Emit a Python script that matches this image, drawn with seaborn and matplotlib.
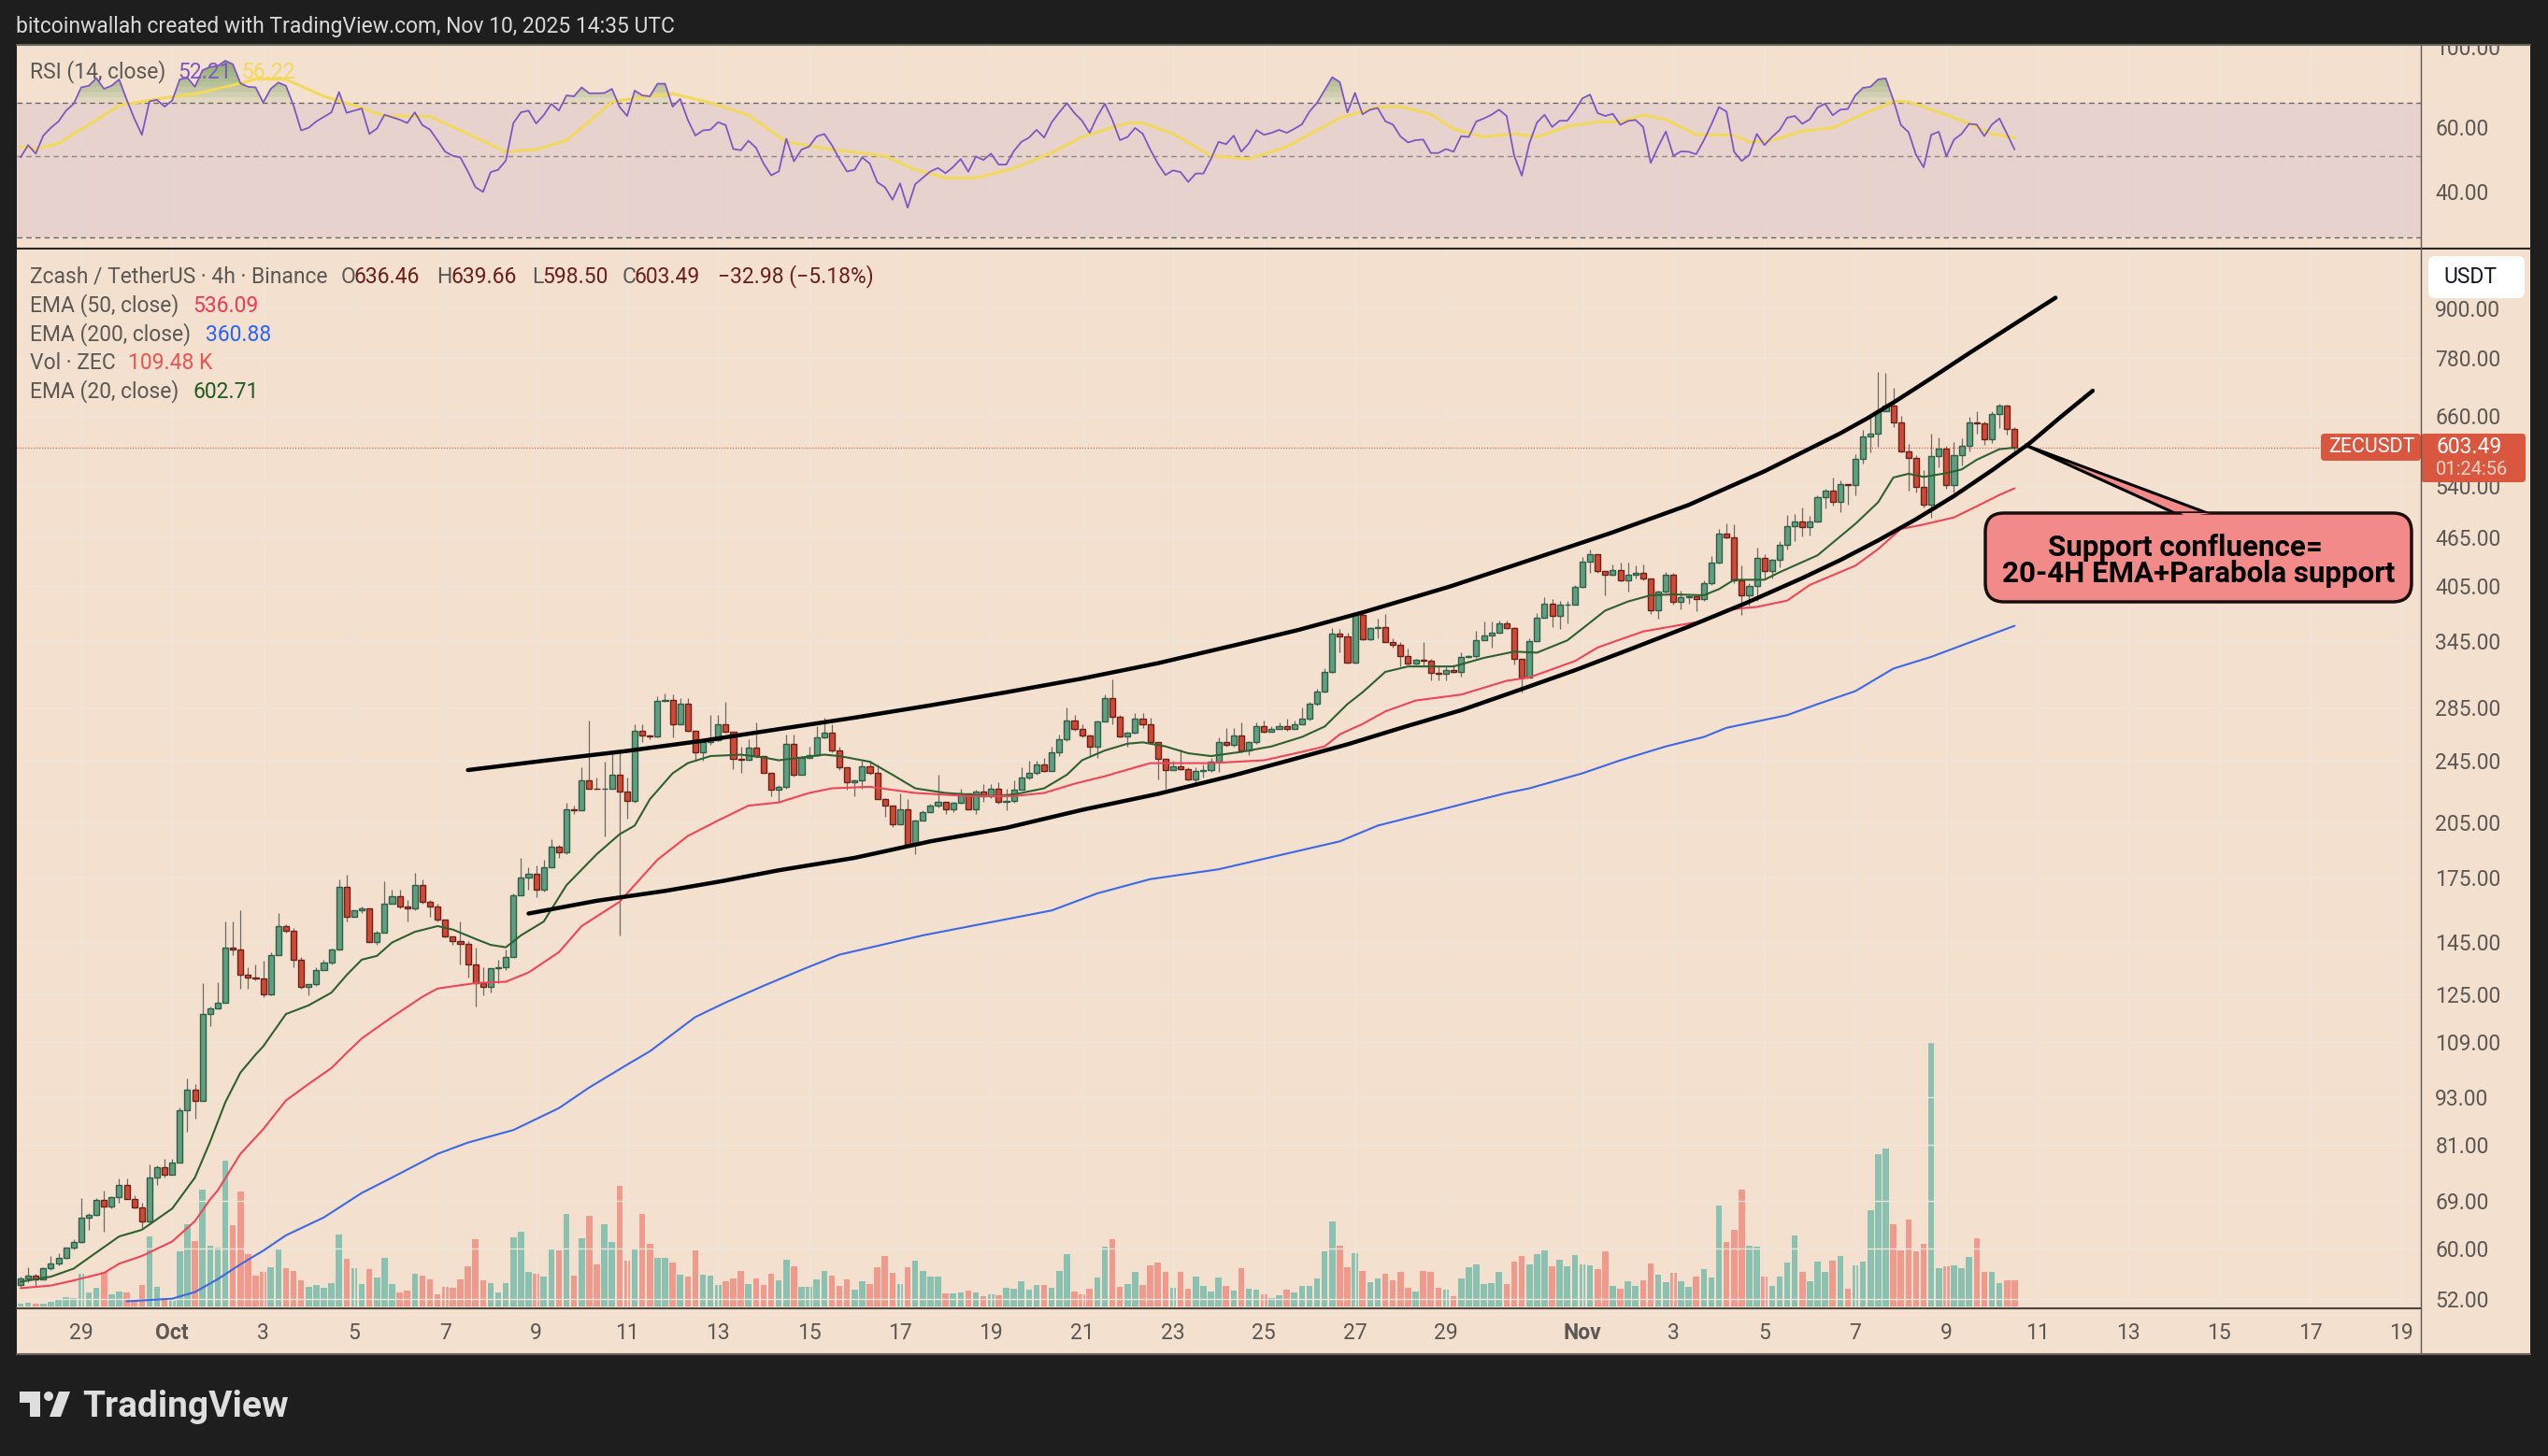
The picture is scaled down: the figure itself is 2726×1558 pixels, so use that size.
import pandas as pd
import numpy as np
import seaborn as sns
import matplotlib
matplotlib.use('Agg')
import matplotlib.pyplot as plt
import matplotlib.dates as mdates
from matplotlib.patches import FancyBboxPatch, Polygon, Circle, Rectangle
from matplotlib.ticker import FixedLocator, FixedFormatter, NullLocator

W, H = 2726, 1558
BG = '#f3e0cf'
DARK = '#1e1e1e'
GREY = '#5c5854'
TEXT_SIZE = 16.5

# 4h candles, Sep 27 16:00 to Nov 10 12:00
first_open = 54.1
closes = [
    55.1, 55.5, 54.9, 56.7, 57.6, 58.4, 60.2, 61.2, 65.6, 66.1,
    69.1, 67.8, 69.6, 72.1, 69.2, 67.6, 64.9, 73.7, 75.9, 74.3,
    77, 89.5, 95, 92, 118, 120, 122, 143, 142, 132,
    131, 130.8, 125, 140, 152, 150, 138, 127.5, 128.5, 134,
    137, 142, 170, 156, 159, 160, 145, 149, 162, 165.5,
    161, 160, 171, 163, 161, 155, 147.5, 145.5, 144.5, 136,
    129, 127.5, 134.5, 135, 139, 166, 175, 176.5, 169, 180,
    191, 188, 213, 212, 231, 226, 225.5, 226, 235, 224,
    218, 267, 263, 262.5, 291, 291.5, 272, 288, 267, 251,
    258, 259.5, 272, 266, 246, 245.5, 254, 248, 236, 225,
    227, 257, 235, 247, 249, 262, 265, 252, 240, 230,
    231, 241, 236, 219, 215, 204, 213, 192, 206, 211,
    215, 217.5, 213, 217, 223, 213, 224, 221, 226, 217.5,
    218, 225, 233, 236, 242, 237.5, 251, 260, 275, 268,
    263, 255, 274, 293, 278, 262.5, 265, 276, 272, 258,
    246, 238, 241, 239, 232, 237.5, 238.5, 244, 258, 256,
    263, 252, 258, 270, 266, 268, 270, 268, 272, 276,
    288, 299, 316, 353, 350, 325, 372, 347, 359, 359.5,
    344, 342, 331, 324, 327, 326.5, 315, 314.5, 318, 316,
    330, 331, 346, 351, 354, 363, 359, 328, 311, 345,
    369, 385, 371, 383, 384, 404, 434, 444, 422, 418,
    424, 411, 418, 420, 413, 377, 398, 418, 387, 392,
    392.5, 390, 408, 433, 471, 466, 411, 394, 405, 439,
    423, 436, 455, 481, 487, 479, 487, 522, 533, 515,
    542, 541.5, 583, 622, 628, 669, 680, 648, 596, 585,
    539, 511, 588, 601, 541, 590, 606, 647.5, 647, 617,
    664, 681, 636.46, 603.49,
]
highs = [
    55.4, 57, 55.8, 56.9, 58.8, 59.3, 60.3, 61.7, 69.4, 66.5,
    69.4, 71, 69.8, 73.5, 73.5, 70, 68.6, 76.5, 76.3, 77.8,
    77.8, 90.3, 98, 96.5, 129, 120.5, 129.5, 154, 154, 159,
    135, 136, 137.5, 141, 158, 153, 151, 139, 128.5, 135,
    138, 142.5, 174, 176, 159, 161, 160, 150, 173, 169,
    169, 164, 177, 174, 164, 162, 155, 147.5, 154, 145.5,
    143, 135, 134.5, 138, 142, 167, 185, 180, 181, 184,
    195, 192, 217, 215, 240, 275, 233, 244, 251, 251,
    233, 272, 272, 264, 295, 297, 296, 293, 293, 267,
    260, 279, 279, 290, 266, 255, 260, 273, 248, 236,
    228, 264, 264, 248, 255, 270, 277, 272, 255, 240,
    232, 245, 245, 242, 220, 215, 223, 219, 206.5, 212,
    216, 235, 217, 217.5, 226, 223, 225, 229, 229, 230,
    226, 231, 240, 245, 245, 247, 255, 264, 285, 279,
    272, 264, 274.5, 296, 309, 279, 266, 281, 281, 277,
    258, 246, 245, 253, 240, 240, 242, 247, 262, 269,
    269, 273, 259, 273, 275, 270, 273, 276, 275, 285,
    290, 301, 319, 359, 358, 354, 375, 375, 360, 368,
    373, 348, 344, 338, 328, 344, 328, 321, 321, 323,
    334, 332, 356, 365, 365, 366, 366, 360, 328, 348,
    374, 392, 390, 388, 388, 406, 440, 450, 444, 423,
    431, 433, 433, 429, 430, 413, 399, 421, 420, 399,
    394, 393, 411, 441, 477, 485, 483, 429, 408, 452,
    444, 438, 461, 497, 498, 508, 495, 525, 536, 553,
    548, 542, 592, 635, 663, 750, 747, 716, 661, 609,
    590, 565, 627, 621, 606, 612, 619, 659, 669, 649,
    670, 684, 682, 639.66,
]
lows = [
    53.8, 54.5, 54, 55.1, 56.4, 57.2, 58.3, 59.9, 61, 63.4,
    66, 63, 67.4, 68.6, 69.2, 67.4, 63.7, 64.7, 72.1, 73.7,
    74.3, 77, 84, 87.3, 92, 114, 120, 122, 140, 127,
    127, 130, 124, 124.5, 140, 149, 135, 127, 124.5, 128,
    134, 136, 142, 154, 156, 158, 145, 144, 149, 162,
    160, 154, 159, 162, 156, 154, 147, 144, 136, 131,
    120.5, 124.5, 125.5, 129, 134, 139, 166, 169, 165, 168,
    180, 185, 187, 210, 212, 226, 225, 197, 228, 148,
    207, 217, 258, 260, 262, 290, 262, 272, 266, 245,
    245, 256, 259, 265, 239, 236, 245, 247, 236, 221,
    217, 226, 234, 235, 247, 248, 261, 251, 238, 225,
    221, 226, 235, 219, 208, 202, 204, 191, 187, 206,
    211, 214, 210, 211, 216.5, 213, 210, 217.5, 220, 216,
    212, 217, 225, 232, 235, 237, 238, 248, 259, 267,
    262, 248, 247, 274, 272, 262, 255, 264.5, 269, 258,
    232, 226, 238, 238, 231, 229, 233, 237, 237, 255,
    255, 251, 249, 257, 265, 266, 268, 267, 268, 272,
    275, 287, 298, 315, 334, 324, 324, 346, 346, 348,
    344, 339, 321, 323, 323, 321, 308, 308, 308, 315,
    312, 329, 329, 346, 339, 353, 358, 323, 298, 311,
    345, 369, 360, 358, 363, 383, 403, 420, 420, 394,
    417, 410, 398, 414, 411, 373, 368, 397, 383, 378,
    385, 376, 388, 406, 432, 464, 408, 372, 382, 388,
    412, 414, 427, 450, 461, 467, 468, 486, 506, 510,
    500, 511, 525, 575, 595, 604, 671, 640, 595, 532,
    530, 507, 492, 569, 535, 530, 572, 596, 627, 607,
    611, 638, 625, 598.5,
]
# volume in thousands of ZEC
volumes = [
    10, 17, 13, 13, 21, 27, 40, 36, 138, 60,
    79, 146, 52, 64, 60, 29, 91, 294, 83, 36,
    23, 232, 345, 275, 490, 255, 248, 610, 341, 482,
    220, 130, 146, 165, 244, 162, 150, 111, 83, 91,
    79, 99, 302, 201, 162, 95, 158, 122, 205, 95,
    60, 68, 138, 130, 115, 52, 83, 79, 115, 169,
    282, 108, 97, 59, 97, 290, 311, 144, 138, 123,
    243, 233, 385, 127, 286, 381, 176, 343, 271, 506,
    191, 241, 385, 263, 205, 205, 182, 133, 123, 233,
    133, 129, 91, 104, 119, 150, 95, 119, 91, 138,
    110, 195, 169, 83, 83, 115, 150, 128, 87, 115,
    72, 107, 95, 165, 212, 142, 95, 165, 193, 150,
    126, 126, 56, 56, 60, 68, 60, 44, 52, 48,
    79, 76, 107, 72, 91, 91, 79, 150, 220, 64,
    52, 76, 122, 251, 283, 83, 95, 146, 91, 173,
    185, 146, 78, 145, 74, 126, 87, 61, 122, 87,
    68, 162, 74, 70, 51, 35, 47, 70, 59, 86,
    86, 117, 231, 356, 254, 165, 223, 149, 103, 117,
    137, 109, 145, 78, 63, 149, 145, 78, 70, 43,
    117, 164, 176, 94, 98, 145, 94, 188, 211, 176,
    219, 235, 168, 195, 168, 215, 176, 172, 156, 231,
    86, 74, 106, 86, 109, 180, 133, 102, 141, 106,
    82, 125, 156, 121, 422, 270, 321, 489, 254, 250,
    125, 86, 125, 184, 297, 145, 106, 188, 145, 192,
    211, 74, 172, 188, 403, 637, 661, 344, 235, 364,
    231, 262, 1103, 160, 168, 172, 160, 207, 285, 145,
    145, 98, 109, 109.48,
]
rsi_values = [
    49.7, 53.7, 50.9, 57, 59.9, 62.3, 66.7, 69.6, 77.2, 78,
    81.8, 76.5, 78, 81.2, 71.4, 63.5, 57.3, 70.7, 71.4, 68.4,
    71.1, 81.2, 82, 77.5, 86, 87.8, 88.3, 91.3, 89.3, 79.2,
    77.5, 77.2, 70.2, 76.5, 79.6, 78, 68.9, 58.9, 59.9, 62.3,
    64.1, 66, 75, 65.8, 66.7, 67.6, 57.6, 59.6, 65, 64,
    63, 61.7, 66, 60.9, 59.2, 55.3, 51.5, 50.2, 49.7, 45.5,
    41.2, 40, 45.3, 46, 48.7, 61.7, 66, 66.7, 61.5, 64.8,
    69.6, 66.7, 73.4, 73, 77.2, 74.4, 74.4, 74.5, 76.5, 68.3,
    64.5, 75.7, 73.4, 73, 79, 79, 68.4, 71.8, 63, 57,
    58.9, 59.2, 62, 60.9, 52.4, 52, 55.2, 52.8, 47.8, 44.4,
    45.5, 55.9, 48.5, 52.2, 53.2, 56.7, 57.6, 53.7, 49.2, 45.5,
    46, 49.7, 47.8, 42.5, 41.2, 38.1, 42.2, 36.2, 42, 43.7,
    45.5, 46.5, 45, 46.8, 49.2, 45.4, 50, 48.9, 50.9, 47.5,
    47.5, 51.7, 54.8, 56.3, 59.1, 56.3, 62, 66, 69.9, 65.7,
    62.6, 58, 64.2, 69.7, 62.9, 55.4, 56.5, 59.8, 57.7, 52.2,
    47.8, 44.5, 45.8, 45.3, 42.6, 44.9, 44.9, 49.2, 54.8, 54,
    57, 51.5, 54.3, 59, 57.3, 58, 59.1, 58, 59.5, 61.2,
    66.3, 70.1, 75.9, 82.3, 79.8, 66, 74.6, 65.2, 67.1, 67.8,
    62.4, 61.1, 56.7, 54.6, 55.4, 55.6, 51.1, 51.1, 52.4, 51.5,
    56.8, 56.5, 62.3, 63.5, 65, 67.1, 64.5, 50.2, 44.3, 54.3,
    61.9, 65, 60.2, 62.6, 62.6, 66.7, 72.1, 73.8, 65.7, 64.5,
    65.4, 61, 62.5, 62.9, 60.2, 48, 53.2, 58.5, 50.2, 51.6,
    51.5, 50.7, 55.3, 61.1, 68.2, 66.3, 51.5, 48.6, 50.5, 57.6,
    53.7, 56.5, 59, 63.8, 64.5, 61.4, 63.2, 68, 69.7, 64.8,
    67.1, 67.4, 73.5, 77, 77.5, 81.2, 81.7, 71.4, 60.9, 58.3,
    50.5, 46.7, 57.3, 58.4, 50, 55.6, 57.6, 61.4, 61.1, 56.8,
    61.1, 63.5, 57.6, 52.21,
]
rsi_ma_bars = [0, 2, 5, 9, 13, 18, 23, 29, 31, 35, 40, 44, 48, 54, 59, 64, 68, 72, 76, 78,
               82, 86, 91, 96, 101, 107, 114, 118, 122, 126, 131, 136, 140, 143, 146, 148,
               152, 157, 162, 167, 174, 179, 182, 186, 189, 193, 197, 200, 204, 208, 211,
               214, 217, 221, 226, 228, 231, 235, 239, 243, 247, 249, 252, 257, 260, 263]
rsi_ma_values = [53.2, 52.4, 54.3, 61.1, 68.9, 71.8, 74.1, 79.2, 81.4, 81.2, 73, 68.9, 64.5, 64.3,
                 57.6, 51.5, 52.2, 55.3, 64.8, 70.5, 72.6, 74.2, 70.1, 64.8, 54.8, 52.2, 50.2,
                 46, 43.6, 43.7, 46.4, 51.2, 56.5, 59.1, 61.7, 61.7, 57.7, 50.2, 49.2, 53.2,
                 63.7, 68.2, 68.4, 65.2, 59.4, 56.5, 57.7, 56.5, 60.4, 62.2, 62.2, 64.9, 63,
                 57.4, 57.1, 54.8, 55.3, 58.7, 59.9, 65.2, 70.7, 70.5, 67.1, 61.6, 57.6, 56.22]

ema20_bars = [0, 4, 7, 10, 13, 16, 20, 23, 25, 27, 29, 31, 32, 35, 38, 41, 43, 45, 47, 49, 52, 55,
              57, 60, 62, 64, 66, 69, 72, 76, 79, 81, 83, 86, 88, 91, 95, 98, 100, 103, 106, 108,
              112, 115, 118, 122, 125, 128, 131, 135, 138, 140, 143, 146, 148, 151, 154, 157, 161,
              165, 169, 172, 175, 177, 180, 183, 189, 193, 197, 200, 204, 206, 209, 212, 215, 218,
              222, 224, 226, 230, 232, 237, 242, 245, 247, 249, 251, 254, 256, 258, 261, 263]
ema20_values = [54.6, 55.4, 56.7, 59.4, 62.2, 63.4, 67.4, 73.7, 81.7, 91.5, 99.7, 105, 107.5, 118,
                121, 125.5, 132, 138, 139.5, 145, 149.5, 152, 150.5, 146.5, 144, 143, 148, 154,
                171, 187, 198, 203, 219, 236, 243, 248, 249, 247, 245, 247, 249, 248, 244, 235,
                226, 223, 222, 221, 222, 226, 235, 245, 252, 257, 258, 255, 250, 248, 251, 255,
                262, 270, 288, 298, 316, 321, 321, 329, 335, 334, 346, 358, 377, 387, 394, 395,
                394, 401, 412, 412, 421, 442, 484, 515, 553, 559, 554, 560, 566, 582, 600, 602.71]
ema50_bars = [0, 4, 7, 11, 13, 16, 20, 23, 25, 26, 29, 32, 35, 38, 41, 43, 45, 49, 53, 55, 60, 64,
              67, 71, 74, 79, 84, 88, 92, 96, 100, 104, 107, 112, 115, 118, 125, 131, 135, 139, 143,
              147, 149, 153, 157, 164, 169, 172, 174, 177, 180, 184, 190, 196, 199, 205, 208, 214,
              222, 225, 229, 233, 236, 242, 245, 248, 251, 255, 258, 261, 263]
ema50_values = [53.6, 54, 54.8, 56, 57.5, 58.8, 61.3, 65, 69.2, 71, 78.9, 84.7, 92, 96.5, 101, 105.5,
                110, 117, 124, 127, 129, 129.5, 133, 141, 152, 163, 184, 197, 206, 215, 217, 223,
                226, 227, 225, 223, 221, 221, 223, 229, 234, 240, 243, 243, 243, 245, 251, 255, 264,
                272, 282, 291, 296, 308, 311, 326, 339, 355, 366, 378, 381, 388, 406, 429, 450, 477,
                483, 493, 509, 526, 536.09]
ema200_bars = [14, 20, 23, 26, 29, 32, 35, 40, 45, 49, 55, 59, 65, 71, 75, 80, 83, 89, 93, 98, 103,
               108, 119, 136, 142, 149, 158, 174, 179, 186, 191, 196, 199, 206, 211, 217, 222, 225,
               233, 237, 242, 247, 252, 256, 263]
ema200_values = [51.6, 52, 53, 55, 57.4, 59.7, 62.4, 65.7, 70.5, 73.7, 78.9, 81.5, 84.5, 90, 95.5,
                 102, 106, 117, 122, 128, 134, 140, 148, 159, 167, 174, 179, 194, 203, 211, 217,
                 223, 226, 236, 245, 255, 262, 269, 279, 288, 299, 319, 330, 341, 360.88]

# hand drawn parabola channel
upper_bars = [59, 69.5, 80, 90, 100, 110, 120, 130, 140, 150, 160, 168.5, 177, 188.5, 200, 210, 220,
              230, 240, 243.6, 247.3, 252, 257, 262.7, 268.4]
upper_prices = [238.2, 245, 251.7, 259.2, 268, 277, 287, 298, 310, 324, 341, 356.5, 375, 404, 439,
                472.3, 511, 563, 628, 656, 689, 736, 791, 857, 928]
lower_bars = [67, 76, 85, 92.5, 100, 110, 120, 130, 140, 150, 160, 167.5, 175, 182.5, 190, 197.5, 205,
              212.5, 220, 227.5, 235, 240, 245, 250, 255, 260, 265, 269, 273.3]
lower_prices = [157.6, 163.5, 168.2, 173, 178.5, 185, 194, 201.7, 212.4, 222.4, 234.6, 245.2, 256.5,
                269.7, 283, 299.6, 317.5, 337.9, 360, 385, 414, 436, 461.4, 490.5, 524.3, 564.5,
                610.6, 657.4, 710]

price_ticks = [900, 780, 660, 540, 465, 405, 345, 285, 245, 205, 175, 145, 125, 109, 93, 81, 69, 60, 52]
rsi_ticks = [100, 60, 40]
tick_dates = ['2025-09-29'] + [f'2025-10-{d:02d}' for d in range(1, 30, 2)] + \
             ['2025-11-01'] + [f'2025-11-{d:02d}' for d in range(3, 20, 2)]
tick_labels = ['29', 'Oct'] + [str(d) for d in range(3, 30, 2)] + ['Nov'] + [str(d) for d in range(3, 20, 2)]

sns.set_theme(style='white')
plt.rcParams['font.family'] = ['Roboto', 'DejaVu Sans']

dates = pd.date_range('2025-09-27 16:00', periods=len(closes), freq='4h')
df = pd.DataFrame({'date': dates, 'close': closes, 'high': highs, 'low': lows,
                   'volume': volumes, 'rsi': rsi_values})
df['open'] = [first_open] + closes[:-1]  # each 4h bar opens on the previous close
df['x'] = mdates.date2num(df['date'])
up = df['close'] >= df['open']
bar_days = 4 / 24
x_at = lambda bars: df['x'].iloc[0] + np.asarray(bars) * bar_days
xlim = (df['x'].iloc[0] - 4 / 48.67, df['x'].iloc[0] + 2568 / 48.67)
tick_x = mdates.date2num(pd.to_datetime(tick_dates))


def pane(x0, y0, x1, y1, zorder):
    ax = fig.add_axes([x0 / W, 1 - y1 / H, (x1 - x0) / W, (y1 - y0) / H], zorder=zorder)
    ax.patch.set_alpha(0)
    for s in ax.spines.values():
        s.set_visible(False)
    return ax


def draw_line(ax, x, y, color, lw, z=4):
    sns.lineplot(x=x, y=y, ax=ax, color=color, linewidth=lw, legend=False, errorbar=None,
                 estimator=None, sort=False, zorder=z)


fig = plt.figure(figsize=(W / 100, H / 100), dpi=100, facecolor=DARK)
bg = pane(18, 48, 2707, 1449, 0)
bg.patch.set_alpha(1)
bg.set_facecolor(BG)
bg.set_xticks([])
bg.set_yticks([])

# volume sits behind the candles
ax_vol = pane(18, 266, 2590, 1400, 1)
vol_colors = np.where(up, '#8bc1b0', '#ef9a8c')
ax_vol.bar(df['x'], df['volume'], width=0.135, color=vol_colors, linewidth=0)
ax_vol.set_xlim(xlim)
ax_vol.set_ylim(-8, 4426)
ax_vol.set_xticks([])
ax_vol.set_yticks([])

ax = pane(18, 266, 2590, 1400, 2)
ax.set_yscale('log')
ax.grid(True, color='#f0e5da', linewidth=1)
ax.set_axisbelow(True)
ax.vlines(df['x'], df['low'], df['high'], color='#6e6a63', linewidth=0.9, zorder=2)
ax.bar(df['x'], (df['close'] - df['open']).abs(), bottom=df[['open', 'close']].min(axis=1),
       width=0.125, color=np.where(up, '#5f9e7e', '#cf4a36'),
       edgecolor=np.where(up, '#2f5f48', '#6b2018'), linewidth=1, zorder=3)
draw_line(ax, x_at(ema20_bars), ema20_values, '#2f6130', 1.5)
draw_line(ax, x_at(ema50_bars), ema50_values, '#ee4658', 1.5)
draw_line(ax, x_at(ema200_bars), ema200_values, '#3d68e6', 1.5)
draw_line(ax, x_at(upper_bars), upper_prices, '#000000', 3.2, 6)
draw_line(ax, x_at(lower_bars), lower_prices, '#000000', 3.2, 6)
ax.axhline(closes[-1], color='#d0503c', linewidth=0.8, linestyle=':', zorder=3)
ax.set_xlim(xlim)
ax.set_ylim(50.57, 1069)
ax.set_xlabel('')
ax.set_ylabel('')
ax.yaxis.set_major_locator(FixedLocator(price_ticks))
ax.yaxis.set_major_formatter(FixedFormatter([f'{v:.2f}' for v in price_ticks]))
ax.yaxis.set_minor_locator(NullLocator())
ax.yaxis.tick_right()
ax.tick_params(axis='y', length=0, pad=11, labelsize=TEXT_SIZE, labelcolor=GREY)
ax.set_xticks(tick_x)
ax.set_xticklabels(tick_labels)
ax.tick_params(axis='x', length=0, pad=11, labelsize=TEXT_SIZE, labelcolor=GREY)
for lab in ax.get_xticklabels():
    if lab.get_text() in ('Oct', 'Nov'):
        lab.set_fontweight('bold')

ax_rsi = pane(18, 48, 2590, 266, 2)
ax_rsi.set_yscale('log')
ax_rsi.grid(True, axis='x', color='#f0e5da', linewidth=1)
ax_rsi.set_axisbelow(True)
ax_rsi.axhspan(30, 70, color='#7e57c2', alpha=0.1, linewidth=0)
rsi = df['rsi'].to_numpy()
for level in np.arange(70, 92, 2.5):
    ax_rsi.fill_between(df['x'], level, rsi, where=rsi > level, interpolate=True,
                        color='#6d9e55', alpha=0.13, linewidth=0)
for level, col in ((70, '#6b6764'), (50, '#8d8682'), (30, '#6b6764')):
    ax_rsi.axhline(level, color=col, linewidth=1, dashes=(4, 3))
draw_line(ax_rsi, x_at(rsi_ma_bars), rsi_ma_values, '#f2d95c', 2.2, 3)
draw_line(ax_rsi, df['x'].to_numpy(), rsi_values, '#7e57c2', 1.3, 4)
ax_rsi.set_xlim(xlim)
ax_rsi.set_ylim(28, 100.9)
ax_rsi.set_xticks(tick_x)
ax_rsi.set_xticklabels([])
ax_rsi.set_xlabel('')
ax_rsi.set_ylabel('')
ax_rsi.yaxis.set_major_locator(FixedLocator(rsi_ticks))
ax_rsi.yaxis.set_major_formatter(FixedFormatter([f'{v:.2f}' for v in rsi_ticks]))
ax_rsi.yaxis.set_minor_locator(NullLocator())
ax_rsi.yaxis.tick_right()
ax_rsi.tick_params(axis='y', length=0, pad=11, labelsize=TEXT_SIZE, labelcolor=GREY)
ax_rsi.tick_params(axis='x', length=0)

# screenshot chrome and labels, in pixel coordinates
ov = fig.add_axes([0, 0, 1, 1], zorder=5)
ov.set_xlim(0, W)
ov.set_ylim(H, 0)
ov.axis('off')
ov.add_patch(Rectangle((0, 0), W, 47, color=DARK, linewidth=0))
ov.plot([18, 2707], [47.5, 47.5], color='#6b645c', linewidth=1.5)
ov.plot([18, 2707], [266, 266], color='#2a2623', linewidth=1.5)
ov.plot([18, 2590], [1400, 1400], color='#4a4540', linewidth=1.5)
ov.plot([2590, 2590], [48, 1449], color='#5d5853', linewidth=1)
ov.plot([18, 2707], [1449, 1449], color='#6b645c', linewidth=1.5)


def label(x, y, s, color=GREY, size=TEXT_SIZE, **kw):
    ov.text(x, y, s, color=color, fontsize=size, va='center', **kw)


label(17, 28, 'bitcoinwallah created with TradingView.com, Nov 10, 2025 14:35 UTC', '#d9d9d9')
label(32, 77, 'RSI (14, close)')
label(190, 77, '52.21', '#7e57c2')
label(258, 77, '56.22', '#f2d95c')
label(32, 296, 'Zcash / TetherUS · 4h · Binance')
val_col = '#6b1f1b'
for lx, vx, letter, val in ((365, 378, 'O', '636.46'), (467, 483, 'H', '639.66'),
                            (569, 580, 'L', '598.50'), (666, 678, 'C', '603.49')):
    label(lx, 296, letter)
    label(vx, 296, val, val_col)
label(768, 296, '−32.98 (−5.18%)', val_col)
label(32, 327, 'EMA (50, close)')
label(206, 327, '536.09', '#ee3b4e')
label(32, 358, 'EMA (200, close)')
label(220, 358, '360.88', '#2962ff')
label(32, 388, 'Vol · ZEC')
label(137, 388, '109.48 K', '#ef5350')
label(32, 419, 'EMA (20, close)')
label(206, 419, '602.71', '#1f5c22')

# price tags
ov.add_patch(FancyBboxPatch((2483, 464), 107, 29, boxstyle='round,pad=0,rounding_size=4',
                            facecolor='#d9573f', linewidth=0))
ov.add_patch(FancyBboxPatch((2590, 464), 112, 52, boxstyle='round,pad=0,rounding_size=4',
                            facecolor='#d9573f', linewidth=0))
label(2537, 478, 'ZECUSDT', '#ffffff', 15.5, ha='center')
label(2606, 478, '603.49', '#ffffff')
label(2606, 502, '01:24:56', '#f7d3c8', 14.5)

# currency button
ov.add_patch(FancyBboxPatch((2598, 274), 103, 45, boxstyle='round,pad=0,rounding_size=7',
                            facecolor='#ffffff', linewidth=0))
label(2643, 296, 'USDT', '#131722', ha='center')

# support callout
box_face = '#f28a8a'
ov.add_patch(Polygon([(2166, 476), (2331, 551), (2367, 551)], closed=True, facecolor=box_face,
                     edgecolor='#000000', linewidth=2.2, zorder=3))
ov.add_patch(FancyBboxPatch((2124, 549), 456, 95, boxstyle='round,pad=0,rounding_size=20',
                            facecolor=box_face, edgecolor='#1a0d0d', linewidth=2.5, zorder=4))
ov.add_patch(Polygon([(2333, 549), (2365, 549), (2340, 553)], closed=True, facecolor=box_face,
                     linewidth=0, zorder=5))
label(2338, 586, 'Support confluence=', '#000000', 22.5, ha='center', fontweight='bold', zorder=6)
label(2352, 614, '20-4H EMA+Parabola support', '#000000', 22.5, ha='center', fontweight='bold', zorder=6)

# TradingView logo
logo = '#dedede'
ov.add_patch(Polygon([(21, 1489), (43, 1489), (43, 1516), (32, 1516), (32, 1501), (21, 1501)],
                     closed=True, facecolor=logo, linewidth=0))
ov.add_patch(Circle((52, 1494), 5, facecolor=logo, linewidth=0))
ov.add_patch(Polygon([(63, 1489), (75, 1489), (65, 1516), (53, 1516)], closed=True, facecolor=logo,
                     linewidth=0))
label(88, 1506, 'TradingView', logo, 28, fontweight='bold')

fig.savefig('out.png', dpi=100, facecolor=DARK)
